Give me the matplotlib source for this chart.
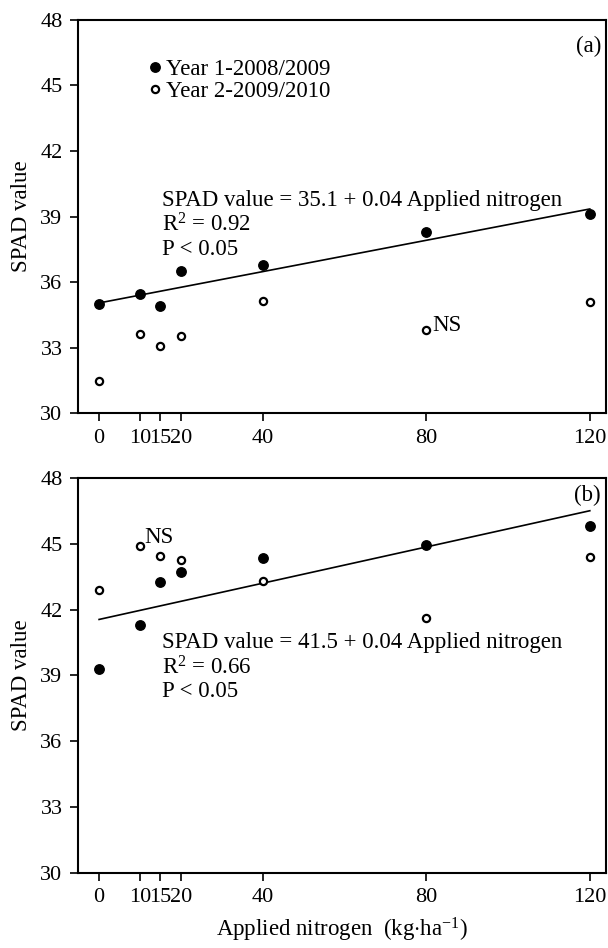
import matplotlib
matplotlib.use('Agg')
import matplotlib.pyplot as plt
from matplotlib.lines import Line2D

plt.rcParams['font.family'] = ['Liberation Serif', 'DejaVu Serif']
plt.rcParams['mathtext.fontset'] = 'custom'
plt.rcParams['mathtext.rm'] = 'Liberation Serif'
plt.rcParams['mathtext.it'] = 'Liberation Serif:italic'

# applied nitrogen rates (kg/ha)
nitrogen = [0, 10, 15, 20, 40, 80, 120]

# panel (a)
a_year1 = [35.0, 35.45, 34.9, 36.5, 36.8, 38.3, 39.1]
a_year2 = [31.5, 33.65, 33.1, 33.55, 35.15, 33.8, 35.1]
a_fit_x = [0, 120]
a_fit_y = [35.05, 39.35]

# panel (b)
b_year1 = [39.3, 41.3, 43.25, 43.7, 44.35, 44.95, 45.8]
b_year2 = [42.9, 44.9, 44.45, 44.25, 43.3, 41.6, 44.4]
b_fit_x = [0, 120]
b_fit_y = [41.55, 46.5]

yticks = [30, 33, 36, 39, 42, 45, 48]

FS = 16.5

fig = plt.figure(figsize=(6.08, 9.48), dpi=100)
ax1 = fig.add_axes([0.128, 0.564, 0.869, 0.415])
ax2 = fig.add_axes([0.128, 0.079, 0.869, 0.417])


def style(ax):
    ax.set_xlim(-5.2, 124)
    ax.set_ylim(30, 48)
    ax.set_xticks(nitrogen)
    ax.set_yticks(yticks)
    ax.tick_params(direction='out', length=6, width=1.2, labelsize=16,
                   top=False, right=False, pad=5)
    for s in ax.spines.values():
        s.set_linewidth(1.5)
    ax.set_ylabel('SPAD value', fontsize=FS, labelpad=6)


def points(ax, y1, y2, fx, fy):
    ax.plot(fx, fy, color='black', lw=1.2, zorder=2)
    ax.plot(nitrogen, y1, 'o', color='black', ms=6.8, zorder=3)
    ax.plot(nitrogen, y2, 'o', mfc='white', mec='black', ms=5.2, mew=1.6, zorder=3)


style(ax1)
points(ax1, a_year1, a_year2, a_fit_x, a_fit_y)
ax1.text(0.99, 0.932, '(a)', transform=ax1.transAxes, ha='right', va='center', fontsize=FS)
ax1.text(15.5, 39.75, 'SPAD value = 35.1 + 0.04 Applied nitrogen', fontsize=FS, va='center')
ax1.text(15.5, 38.6, r'R$^2$ = 0.92', fontsize=FS, va='center')
ax1.text(15.5, 37.5, 'P < 0.05', fontsize=FS, va='center')
ax1.text(81.5, 34.0, 'NS', fontsize=FS, va='center')

handles = [
    Line2D([], [], ls='none', marker='o', color='black', ms=6.8),
    Line2D([], [], ls='none', marker='o', mfc='white', mec='black', ms=5.2, mew=1.6),
]
ax1.legend(handles, ['Year 1-2008/2009', 'Year 2-2009/2010'], loc='upper left',
           bbox_to_anchor=(0.113, 0.93), frameon=False, fontsize=FS,
           handlelength=0.5, handletextpad=0.25, labelspacing=0.05, borderpad=0)

style(ax2)
points(ax2, b_year1, b_year2, b_fit_x, b_fit_y)
ax2.text(0.99, 0.955, '(b)', transform=ax2.transAxes, ha='right', va='center', fontsize=FS)
ax2.text(15.5, 40.5, 'SPAD value = 41.5 + 0.04 Applied nitrogen', fontsize=FS, va='center')
ax2.text(15.5, 39.35, r'R$^2$ = 0.66', fontsize=FS, va='center')
ax2.text(15.5, 38.25, 'P < 0.05', fontsize=FS, va='center')
ax2.text(11.0, 45.3, 'NS', fontsize=FS, va='center')
ax2.set_xlabel(r'Applied nitrogen  (kg$\cdot$ha$^{-1}$)', fontsize=FS, labelpad=6)

fig.savefig('out.png', dpi=100)
